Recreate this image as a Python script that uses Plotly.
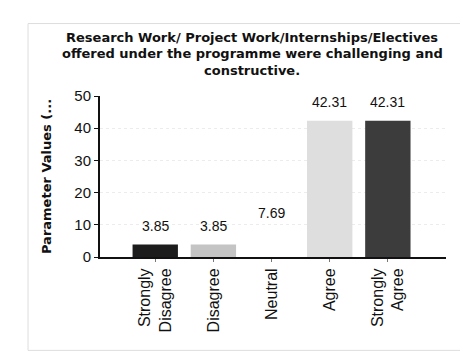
import plotly.graph_objects as go

# ── Data ────────────────────────────────────────────────────────
categories = ["Strongly<br>Disagree", "Disagree", "Neutral", "Agree", "Strongly<br>Agree"]
values = [3.85, 3.85, 7.69, 42.31, 42.31]
bar_colors = ["#1c1c1c", "#c4c4c4", "#ffffff", "#dedede", "#3c3c3c"]
y_ticks = [0, 10, 20, 30, 40, 50]

TITLE_LINES = [
    "Research Work/ Project Work/Internships/Electives",
    "offered under the programme were challenging and",
    "constructive.",
]

xs = list(range(len(categories)))

fig = go.Figure()
fig.add_trace(go.Bar(
    x=xs,
    y=values,
    marker=dict(color=bar_colors, line=dict(width=0)),
    width=0.78,
    showlegend=False,
    hoverinfo="skip",
))

# value labels above the bars
for x, v in zip(xs, values):
    fig.add_annotation(
        x=x, y=v, text=f"{v:.2f}",
        showarrow=False, yanchor="bottom", yshift=9,
        font=dict(family="Liberation Sans, Arial", size=14, color="#111"),
    )

# title, one line per annotation for tight line spacing
for i, line in enumerate(TITLE_LINES):
    fig.add_annotation(
        xref="paper", yref="paper",
        x=0.44, y=1.0, yanchor="middle",
        yshift=59 - i * 16.5,
        text=f"<b>{line}</b>", showarrow=False,
        font=dict(family="DejaVu Sans", size=13, color="#111"),
    )

fig.update_layout(
    width=468,
    height=360,
    paper_bgcolor="white",
    plot_bgcolor="white",
    margin=dict(l=92, r=30, t=88, b=111, autoexpand=False),
    xaxis=dict(
        range=[-0.95, 5.0],
        tickmode="array",
        tickvals=xs,
        ticktext=categories,
        tickangle=-90,
        tickfont=dict(family="Liberation Sans, Arial", size=16, color="#111"),
        showline=True, linecolor="#111", linewidth=2,
        showgrid=False, zeroline=False,
        ticks="outside", ticklen=3, tickcolor="#777",
        automargin=False,
    ),
    yaxis=dict(
        range=[0, 50],
        tickmode="array",
        tickvals=y_ticks,
        tickfont=dict(family="Liberation Sans, Arial", size=15, color="#111"),
        showline=True, linecolor="#111", linewidth=2,
        ticks="outside", ticklen=4, tickcolor="#111",
        showgrid=True, gridcolor="#ececec", griddash="dot", gridwidth=1,
        zeroline=False,
        automargin=False,
        title=dict(
            text="<b>Parameter Values (...</b>",
            font=dict(family="DejaVu Sans", size=13, color="#111"),
            standoff=20,
        ),
    ),
)

# faint frame around the chart area
fig.add_shape(type="rect", xref="paper", yref="paper",
              x0=-0.208, x1=1.064, y0=-0.58, y1=1.45,
              line=dict(color="#dddddd", width=1))

fig.write_html("out.html")
